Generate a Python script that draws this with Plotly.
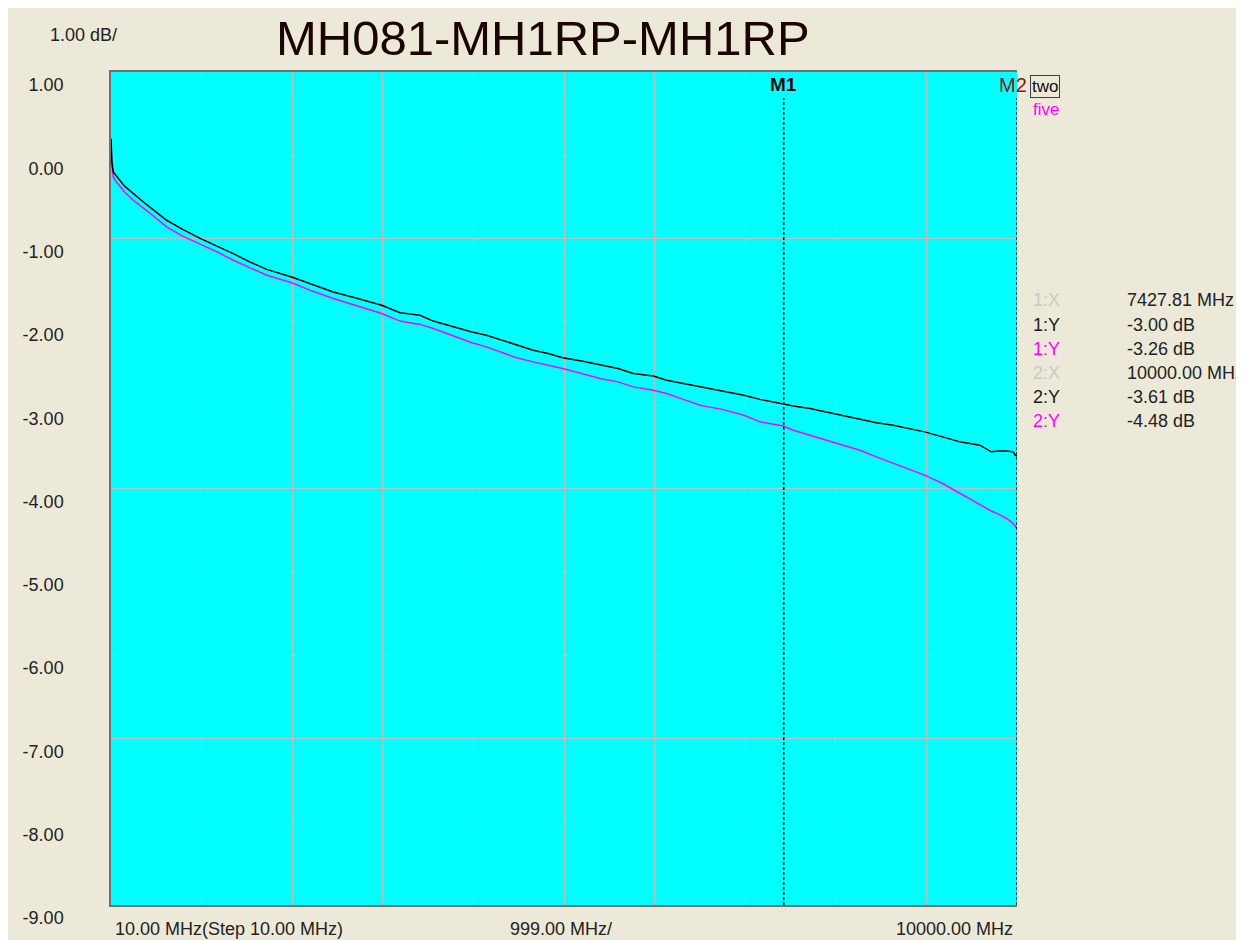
import plotly.graph_objects as go

# ---------------- data ----------------
freq_two = [10, 15, 20, 35, 60, 100, 160, 256, 400, 624,
            800, 999, 1180, 1358, 1540, 1727, 2002, 2230, 2461, 2730,
            2995, 3197, 3417, 3564, 3780, 3990, 4150, 4299, 4480, 4666,
            4830, 4990, 5200, 5402, 5600, 5769, 5990, 6137, 6320, 6504,
            6750, 6989, 7166, 7423, 7533, 7717, 7981, 8130, 8268, 8450,
            8636, 8800, 8981, 9180, 9370, 9591, 9716, 9800, 9885, 9959,
            9981, 10000]
db_two = [0.20, 0.05, -0.08, -0.20, -0.24, -0.29, -0.37, -0.46, -0.59, -0.78,
          -0.89, -1.00, -1.09, -1.18, -1.28, -1.37, -1.46, -1.55, -1.64, -1.72,
          -1.80, -1.89, -1.92, -1.99, -2.06, -2.12, -2.16, -2.21, -2.28, -2.34,
          -2.38, -2.43, -2.47, -2.52, -2.56, -2.62, -2.65, -2.70, -2.74, -2.78,
          -2.83, -2.88, -2.93, -2.99, -3.01, -3.04, -3.10, -3.13, -3.17, -3.21,
          -3.24, -3.28, -3.32, -3.38, -3.44, -3.48, -3.56, -3.55, -3.55, -3.56,
          -3.60, -3.61]

freq_five = list(freq_two)
db_five = [0.15, 0.00, -0.12, -0.26, -0.31, -0.36, -0.44, -0.54, -0.66, -0.86,
           -0.97, -1.07, -1.16, -1.26, -1.35, -1.44, -1.53, -1.63, -1.72, -1.81,
           -1.90, -1.99, -2.03, -2.08, -2.17, -2.25, -2.30, -2.36, -2.43, -2.48,
           -2.52, -2.56, -2.62, -2.68, -2.72, -2.78, -2.82, -2.86, -2.93, -3.00,
           -3.05, -3.12, -3.20, -3.25, -3.30, -3.36, -3.44, -3.49, -3.54, -3.62,
           -3.70, -3.77, -3.84, -3.94, -4.06, -4.20, -4.27, -4.31, -4.36, -4.42,
           -4.45, -4.48]

x_grid = [10 + 999 * k for k in range(11)]
y_ticks = [1, 0, -1, -2, -3, -4, -5, -6, -7, -8, -9]
y_ticktext = ["%.2f" % v for v in y_ticks]

marker_freqs = [7427.81, 10000.0]
marker_names = ["M1", "M2"]

readout_labels = ["1:X", "1:Y", "1:Y", "2:X", "2:Y", "2:Y"]
readout_values = ["7427.81 MHz", "-3.00 dB", "-3.26 dB",
                  "10000.00 MHz", "-3.61 dB", "-4.48 dB"]
readout_colors = ["#c8c8c8", "#1a1a1a", "#ff00ff", "#c8c8c8", "#1a1a1a", "#ff00ff"]

x_labels = ["10.00 MHz(Step 10.00 MHz)", "999.00 MHz/", "10000.00 MHz"]

title_text = "MH081-MH1RP-MH1RP"
scale_text = "1.00 dB/"

# ---------------- layout helpers ----------------
# page is 1244x940; the html body adds an 8px margin, so the figure is shifted by 8px
OFF = 8
W, H = 1244 - OFF, 940 - OFF
L, R, T, B = 111, 1017, 72, 905   # plot area in page pixels


def px(x):
    return (x - L) / (R - L)


def py(y):
    return (B - y) / (B - T)


FONT = "Liberation Sans, Arial, sans-serif"
BG = "#ECE9D8"

fig = go.Figure()
fig.add_trace(go.Scatter(x=freq_five, y=db_five, mode="lines",
                         line=dict(color="#ff00ff", width=1.5), name="five",
                         showlegend=False))
fig.add_trace(go.Scatter(x=freq_two, y=db_two, mode="lines",
                         line=dict(color="#000000", width=1.5), name="two",
                         showlegend=False))

annotations = []
annotations.append(dict(text=title_text, x=px(543), y=py(38), xref="paper", yref="paper",
                        showarrow=False, xanchor="center", yanchor="middle",
                        font=dict(size=49, color="#1a0505", family=FONT)))
annotations.append(dict(text=scale_text, x=px(48), y=py(35), xref="paper", yref="paper",
                        showarrow=False, xanchor="left", yanchor="middle",
                        font=dict(size=18, color="#222222", family=FONT)))
# marker labels
annotations.append(dict(text="<b>" + marker_names[0] + "</b>", x=marker_freqs[0], y=py(84),
                        xref="x", yref="paper", showarrow=False, xanchor="center",
                        yanchor="middle", font=dict(size=19, color="#2a0808", family=FONT)))
annotations.append(dict(text=marker_names[1], x=px(1029), y=py(85),
                        xref="paper", yref="paper", showarrow=False, xanchor="right",
                        yanchor="middle", font=dict(size=20, color="#8a1515", family=FONT)))
# legend-like labels
annotations.append(dict(text="two", x=px(1045), y=py(86), xref="paper", yref="paper",
                        showarrow=False, xanchor="center", yanchor="middle",
                        bordercolor="#404040", borderwidth=1, borderpad=1,
                        font=dict(size=17, color="#111111", family=FONT)))
annotations.append(dict(text="five", x=px(1031), y=py(109), xref="paper", yref="paper",
                        showarrow=False, xanchor="left", yanchor="middle",
                        font=dict(size=17, color="#ff00ff", family=FONT)))
# readouts
row_y = [300, 325, 349, 373, 397, 421]
for lab, val, col, yy in zip(readout_labels, readout_values, readout_colors, row_y):
    annotations.append(dict(text=lab, x=px(1031), y=py(yy), xref="paper", yref="paper",
                            showarrow=False, xanchor="left", yanchor="middle",
                            font=dict(size=18, color=col, family=FONT)))
    annotations.append(dict(text=val, x=px(1125), y=py(yy), xref="paper", yref="paper",
                            showarrow=False, xanchor="left", yanchor="middle",
                            font=dict(size=18, color="#222222", family=FONT)))
# x labels
annotations.append(dict(text=x_labels[0], x=x_grid[0], y=py(929), xref="x", yref="paper",
                        showarrow=False, xanchor="left", yanchor="middle", xshift=2,
                        font=dict(size=18, color="#222222", family=FONT)))
annotations.append(dict(text=x_labels[1], x=px(508), y=py(929), xref="paper", yref="paper",
                        showarrow=False, xanchor="left", yanchor="middle",
                        font=dict(size=18, color="#222222", family=FONT)))
annotations.append(dict(text=x_labels[2], x=x_grid[-1], y=py(929), xref="x", yref="paper",
                        showarrow=False, xanchor="right", yanchor="middle", xshift=-2,
                        font=dict(size=18, color="#222222", family=FONT)))

shapes = []
for f in marker_freqs:
    shapes.append(dict(type="line", xref="x", yref="paper", x0=f, x1=f, y0=0, y1=py(98),
                       line=dict(color="#000000", width=1.5, dash="3px,2px"), layer="above"))

fig.update_layout(
    width=W, height=H,
    margin=dict(l=L - OFF, r=(W + OFF) - R, t=T - OFF, b=(H + OFF) - B, pad=0),
    paper_bgcolor=BG, plot_bgcolor="#00FFFF",
    font=dict(family=FONT, size=18, color="#222222"),
    showlegend=False,
    annotations=annotations,
    shapes=shapes,
    xaxis=dict(range=[10, 10000], tickvals=x_grid, showticklabels=False, ticks="",
               showgrid=True, gridcolor="#c0c0c0", gridwidth=1, zeroline=False,
               showline=True, mirror=True, linecolor="#707070", linewidth=1.5,
               fixedrange=True),
    yaxis=dict(range=[-9, 1], tickvals=y_ticks, ticktext=y_ticktext, ticks="",
               ticklabelshift=13, ticklabelstandoff=42,
               tickfont=dict(size=18, color="#222222", family=FONT),
               showgrid=True, gridcolor="#c0c0c0", gridwidth=1, zeroline=False,
               showline=True, mirror=False, linecolor="#707070", linewidth=1.5,
               fixedrange=True),
)

fig.write_html("out.html")
